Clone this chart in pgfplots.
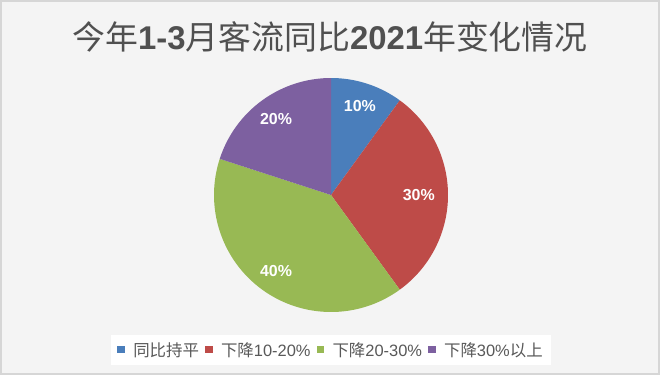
\documentclass[border=0pt]{standalone}
\usepackage{fontspec}
\setmainfont{Liberation Sans}
\newfontfamily\cjk{Noto Sans CJK SC}
\usepackage{pgfplots}
\pgfplotsset{compat=1.18}
\definecolor{c1}{HTML}{4A7EBB}
\definecolor{c2}{HTML}{BE4B48}
\definecolor{c3}{HTML}{98B954}
\definecolor{c4}{HTML}{7D60A0}
\definecolor{bg}{HTML}{F4F4F4}
\definecolor{bd}{HTML}{D6D6D6}
\definecolor{tt}{HTML}{505050}
\definecolor{lg}{HTML}{595959}
% shares (%)
\def\va{10}\def\vb{30}\def\vc{40}\def\vd{20}
\begin{document}
\begin{tikzpicture}[x=1bp,y=1bp]
\fill[bg] (0,0) rectangle (660,375);
\draw[bd,line width=2bp] (1,1) rectangle (659,374);
\node[text=tt,font=\fontsize{33}{38}\selectfont] at (330,338)
  {{\cjk 今年}\textbf{1-3}{\cjk 月客流同比}\textbf{2021}{\cjk 年变化情况}};
\begin{axis}[at={(331bp,180bp)},anchor=center,
  width=234bp,height=234bp,scale only axis,hide axis,
  xmin=-1,xmax=1,ymin=-1,ymax=1,clip=false,
  legend columns=4,
  legend style={at={(0.5,-0.162)},anchor=center,fill=white,draw=none,
    font=\fontsize{16.5}{19}\selectfont,text=lg,
    inner xsep=6bp,inner ysep=5bp,
    /tikz/every odd column/.append style={column sep=6.5bp},
    /tikz/every even column/.append style={column sep=4bp}},
  legend image code/.code={\fill[#1] (0bp,-3.5bp) rectangle (7.5bp,4bp);},
]
\pgfmathsetmacro\aa{90}
\pgfmathsetmacro\ab{90-3.6*\va}
\pgfmathsetmacro\ac{\ab-3.6*\vb}
\pgfmathsetmacro\ad{\ac-3.6*\vc}
\pgfmathsetmacro\ae{\ad-3.6*\vd}
\addplot[fill=c1,draw=none,domain=\ab:\aa,samples=40] ({cos(x)},{sin(x)}) -- (axis cs:0,0) -- cycle;
\addlegendentry{{\cjk 同比持平}}
\addplot[fill=c2,draw=none,domain=\ac:\ab,samples=80] ({cos(x)},{sin(x)}) -- (axis cs:0,0) -- cycle;
\addlegendentry{{\cjk 下降}10-20\%}
\addplot[fill=c3,draw=none,domain=\ad:\ac,samples=100] ({cos(x)},{sin(x)}) -- (axis cs:0,0) -- cycle;
\addlegendentry{{\cjk 下降}20-30\%}
\addplot[fill=c4,draw=none,domain=\ae:\ad,samples=60] ({cos(x)},{sin(x)}) -- (axis cs:0,0) -- cycle;
\addlegendentry{{\cjk 下降}30\%{\cjk 以上}}
\pgfmathsetmacro\ma{(\aa+\ab)/2}
\pgfmathsetmacro\mb{(\ab+\ac)/2}
\pgfmathsetmacro\mc{(\ac+\ad)/2}
\pgfmathsetmacro\md{(\ad+\ae)/2}
\node[text=white,font=\bfseries\fontsize{16}{18}\selectfont] at (axis cs:{0.8*cos(\ma)},{0.8*sin(\ma)}) {\va\%};
\node[text=white,font=\bfseries\fontsize{16}{18}\selectfont] at (axis cs:{0.75*cos(\mb)},{0.75*sin(\mb)}) {\vb\%};
\node[text=white,font=\bfseries\fontsize{16}{18}\selectfont] at (axis cs:{0.8*cos(\mc)},{0.8*sin(\mc)}) {\vc\%};
\node[text=white,font=\bfseries\fontsize{16}{18}\selectfont] at (axis cs:{0.8*cos(\md)},{0.8*sin(\md)}) {\vd\%};
\end{axis}
\end{tikzpicture}
\end{document}
